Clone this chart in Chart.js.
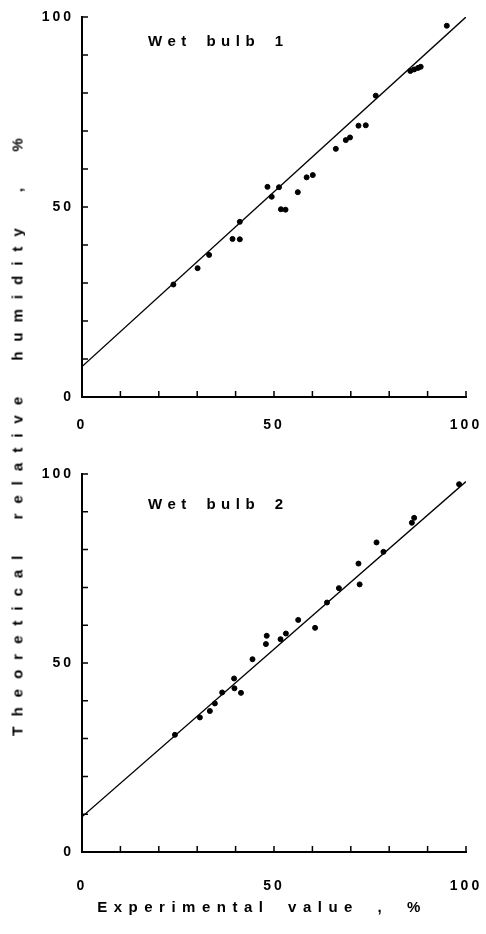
<!DOCTYPE html>
<html>
<head>
<meta charset="utf-8">
<script src="https://cdn.jsdelivr.net/npm/chart.js@4.4.1/dist/chart.umd.min.js"></script>
<style>
  body { margin: 0; background: #fff; }
  #wrap { position: relative; width: 486px; height: 934px; font-family: "Liberation Sans", Arial, sans-serif; font-weight: bold; color: #000; }
  canvas { position: absolute; left: 0; }
  .lbl { position: absolute; white-space: nowrap; font-size: 15px; letter-spacing: 5.5px; word-spacing: 5px; }
  #ytitle { position: absolute; left: 17px; top: 432px; transform: translate(-50%, -50%) rotate(-90deg); white-space: nowrap; font-size: 15px; letter-spacing: 10px; word-spacing: 12px; }
  #xtitle { position: absolute; left: 262px; top: 906px; transform: translate(-50%, -50%); white-space: nowrap; font-size: 15px; letter-spacing: 6.5px; word-spacing: 8px; }
</style>
</head>
<body>
<div id="wrap">
  <canvas id="top" width="486" height="440" style="top:0"></canvas>
  <canvas id="bottom" width="486" height="455" style="top:455px"></canvas>
  <div class="lbl" style="left:148px; top:32px">Wet bulb 1</div>
  <div class="lbl" style="left:148px; top:495px">Wet bulb 2</div>
  <div id="ytitle">Theoretical relative humidity , %</div>
  <div id="xtitle">Experimental value , %</div>
</div>
<script>
const tickLabels = ["0", "50", "100"];

// Wet bulb 1: experimental (x) vs theoretical (y), %
const wb1X = [23.8, 30.1, 33.1, 39.2, 41.1, 41.1, 48.3, 49.4, 51.3, 51.8, 53.0, 56.2, 58.5, 60.1, 66.1, 68.7, 69.8, 72.0, 73.9, 76.5, 85.5, 86.5, 87.5, 88.2, 95.0];
const wb1Y = [29.6, 33.9, 37.4, 41.6, 41.5, 46.1, 55.3, 52.7, 55.2, 49.4, 49.3, 53.9, 57.8, 58.4, 65.3, 67.6, 68.3, 71.4, 71.5, 79.3, 85.8, 86.2, 86.6, 86.9, 97.7];
const fit1X = [0, 100];
const fit1Y = [8, 100];

// Wet bulb 2
const wb2X = [24.2, 30.7, 33.3, 34.6, 36.5, 39.6, 39.7, 41.4, 44.4, 47.9, 48.1, 51.7, 53.1, 56.3, 60.7, 63.8, 66.9, 72.0, 72.3, 76.7, 78.5, 85.9, 86.5, 98.2];
const wb2Y = [31.0, 35.6, 37.3, 39.3, 42.2, 45.9, 43.3, 42.1, 51.0, 55.0, 57.2, 56.3, 57.8, 61.4, 59.3, 66.0, 69.8, 76.3, 70.8, 81.9, 79.4, 87.1, 88.4, 97.3];
const fit2X = [0, 100];
const fit2Y = [9.3, 98];

const toPts = (xs, ys) => xs.map((x, i) => ({ x: x, y: ys[i] }));

const tickFont = { family: "'Liberation Sans', Arial, sans-serif", size: 14, weight: "bold" };
const labelOf = (v) => (tickLabels.includes(String(v)) ? String(v) : "");

// short tick marks pointing into the plot
const inwardTicks = {
  id: "inwardTicks",
  beforeDraw(chart) {
    chart.ctx.letterSpacing = "3px";
  },
  afterDatasetsDraw(chart) {
    const { ctx, chartArea: a, scales: { x, y } } = chart;
    ctx.save();
    ctx.strokeStyle = "#000";
    ctx.lineWidth = 1.5;
    ctx.beginPath();
    x.ticks.forEach((t) => {
      const px = x.getPixelForValue(t.value);
      ctx.moveTo(px, a.bottom);
      ctx.lineTo(px, a.bottom - 6);
    });
    y.ticks.forEach((t) => {
      const py = y.getPixelForValue(t.value);
      ctx.moveTo(a.left, py);
      ctx.lineTo(a.left + 6, py);
    });
    ctx.stroke();
    ctx.restore();
  },
};

function makeChart(id, pts, fit, padding, xGap) {
  return new Chart(document.getElementById(id), {
    type: "scatter",
    data: {
      datasets: [
        {
          data: pts,
          backgroundColor: "#000",
          borderColor: "#000",
          pointRadius: 2.5,
        },
        {
          type: "line",
          data: fit,
          borderColor: "#000",
          borderWidth: 1.4,
          pointRadius: 0,
          fill: false,
        },
      ],
    },
    options: {
      responsive: false,
      animation: false,
      layout: { padding: padding },
      plugins: { legend: { display: false }, tooltip: { enabled: false } },
      scales: {
        x: {
          type: "linear",
          min: 0,
          max: 100,
          afterFit: (s) => { s.height = 45; },
          grid: { display: false, drawTicks: true, tickLength: xGap },
          border: { display: true, color: "#000", width: 2 },
          ticks: {
            stepSize: 10,
            autoSkip: false,
            maxRotation: 0,
            padding: 2,
            color: "#000",
            font: tickFont,
            callback: labelOf,
          },
        },
        y: {
          min: 0,
          max: 100,
          afterFit: (s) => { s.width = 60; },
          grid: { display: false, drawTicks: true, tickLength: 6 },
          border: { display: true, color: "#000", width: 2 },
          ticks: {
            stepSize: 10,
            autoSkip: false,
            padding: 2,
            color: "#000",
            font: tickFont,
            callback: labelOf,
          },
        },
      },
    },
    plugins: [inwardTicks],
  });
}

makeChart("top", toPts(wb1X, wb1Y), toPts(fit1X, fit1Y), { left: 22, right: 20, top: 17, bottom: -2 }, 18);
makeChart("bottom", toPts(wb2X, wb2Y), toPts(fit2X, fit2Y), { left: 22, right: 20, top: 19, bottom: 13 }, 24);
</script>
</body>
</html>
